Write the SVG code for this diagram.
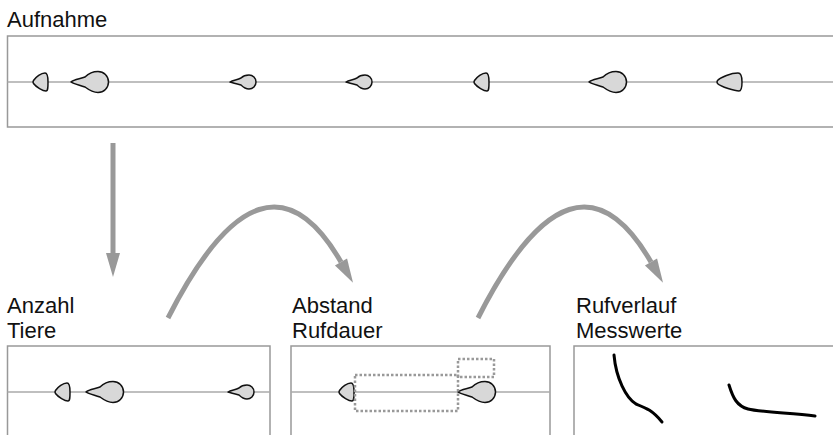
<svg xmlns="http://www.w3.org/2000/svg" xmlns:xlink="http://www.w3.org/1999/xlink" width="833" height="435" viewBox="0 0 833 435">
  <style>
    .label { font-family: "Liberation Sans", Arial, sans-serif; font-size: 22px; fill: #111; }
    .frame { fill: none; stroke: #999; stroke-width: 1.5; }
    .axis { stroke: #aaa; stroke-width: 1.5; }
    .call { fill: #d8d8d8; stroke: #111; stroke-width: 1.5; stroke-linejoin: round; }
    .box { fill: none; stroke: #999; stroke-width: 2.5; stroke-dasharray: 2.5 2; }
    .flow { fill: none; stroke: #999; stroke-width: 5; }
    .trace { fill: none; stroke: #000; stroke-width: 3; stroke-linecap: round; stroke-linejoin: round; }
  </style>
  <defs>
    <marker id="head" markerUnits="userSpaceOnUse" markerWidth="30" markerHeight="20" refX="0" refY="10" orient="auto" overflow="visible">
      <path d="M0,3 L24,10 L0,17 Z" fill="#999"/>
    </marker>
    <!-- call shapes, drawn from the tip at (0,0) -->
    <path id="tri" d="M0.5,-1.5 C3,-5 8,-9 12,-9 C14,-9 15,-5 15,0 C15,5 15,9 13,9 C10,9 3,5 0.5,1.5 C-0.2,0.5 -0.2,-0.5 0.5,-1.5 Z"/>
    <path id="triWide" d="M0.5,-1.5 C4,-5 14,-9 21,-9 C24,-9 25,-5 25,0 C25,5 24,9 22,9 C18,9 4,5 0.5,1.5 C-0.2,0.5 -0.2,-0.5 0.5,-1.5 Z"/>
    <path id="big" d="M0,0 C3,-3 9,-3 14,-5 C18,-9 22,-10.5 27,-10.5 A10.5,10.5 0 0 1 27,10.5 C22,10.5 18,8 14,5 C9,3 3,2 0,0 Z"/>
    <path id="small" d="M0,0 C3,-2 7,-2 11,-4 C13,-6 16,-7 19,-7 A7,7 0 0 1 19,7 C16,7 13,5 11,3 C7,2 3,1 0,0 Z"/>
  </defs>

  <!-- recording strip -->
  <g id="aufnahme">
    <text class="label" x="7" y="27">Aufnahme</text>
    <rect class="frame" x="7.5" y="36" width="840" height="91"/>
    <line class="axis" x1="7.5" y1="82" x2="833" y2="82"/>
    <use class="call" xlink:href="#tri" x="33" y="82"/>
    <use class="call" xlink:href="#big" x="71" y="82"/>
    <use class="call" xlink:href="#small" x="230" y="82"/>
    <use class="call" xlink:href="#small" x="346" y="82"/>
    <use class="call" xlink:href="#tri" x="474" y="82"/>
    <use class="call" xlink:href="#big" x="589" y="82"/>
    <use class="call" xlink:href="#triWide" x="717" y="82"/>
  </g>

  <!-- count of animals -->
  <g id="anzahl">
    <text class="label" x="7" y="313">Anzahl</text>
    <text class="label" x="7" y="338">Tiere</text>
    <rect class="frame" x="7.5" y="346" width="262.5" height="100"/>
    <line class="axis" x1="7.5" y1="392" x2="270" y2="392"/>
    <use class="call" xlink:href="#tri" x="55" y="392"/>
    <use class="call" xlink:href="#big" x="86" y="392"/>
    <use class="call" xlink:href="#small" x="228" y="392"/>
  </g>

  <!-- spacing and call duration -->
  <g id="abstand">
    <text class="label" x="292" y="313">Abstand</text>
    <text class="label" x="292" y="338">Rufdauer</text>
    <rect class="frame" x="291" y="346" width="259" height="100"/>
    <line class="axis" x1="291" y1="392" x2="550" y2="392"/>
    <use class="call" xlink:href="#tri" x="339" y="392"/>
    <use class="call" xlink:href="#big" x="458" y="392"/>
    <rect class="box" x="355" y="375" width="103" height="36"/>
    <rect class="box" x="458" y="359" width="36" height="18"/>
  </g>

  <!-- call contour measurements -->
  <g id="rufverlauf">
    <text class="label" x="576" y="313">Rufverlauf</text>
    <text class="label" x="576" y="338">Messwerte</text>
    <rect class="frame" x="574" y="346" width="280" height="100"/>
    <path class="trace" d="M614,355 C616,378 626,398 636,404 C646,408 652,410 662,422"/>
    <path class="trace" d="M729,385 C733,398 737,406 748,409 C760,412 790,413 815,416"/>
  </g>

  <!-- connectors -->
  <g id="connectors">
    <path class="flow" d="M113,143 L113,253" marker-end="url(#head)"/>
    <path class="flow" d="M168,318 Q264,129 341,262" marker-end="url(#head)"/>
    <path class="flow" d="M478,318 Q574,129 651,262" marker-end="url(#head)"/>
  </g>
</svg>
